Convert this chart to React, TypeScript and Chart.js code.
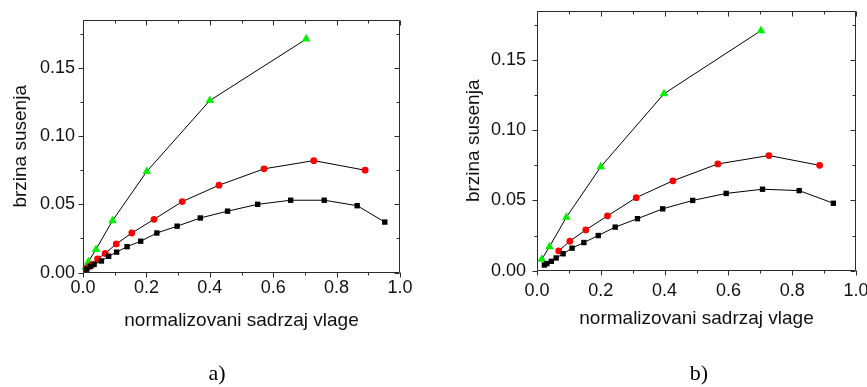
import React, { useEffect, useRef } from 'react';
import { Chart, registerables } from 'chart.js';

Chart.register(...registerables);

// ---- shared axes ----
const xTickValues = [0, 0.2, 0.4, 0.6, 0.8, 1.0];
const xTickLabels = ['0.0', '0.2', '0.4', '0.6', '0.8', '1.0'];
const xMinorTicks = [0.1, 0.3, 0.5, 0.7, 0.9];
const yTickValues = [0, 0.05, 0.1, 0.15];
const yTickLabels = ['0.00', '0.05', '0.10', '0.15'];
const yMinorTicks = [0.025, 0.075, 0.125, 0.175];
const xAxisTitle = 'normalizovani sadrzaj vlage';
const yAxisTitle = 'brzina susenja';

// ---- panel a ----
const aGreenX = [0.009, 0.017, 0.041, 0.093, 0.201, 0.4, 0.704];
const aGreenY = [0.004, 0.008, 0.017, 0.038, 0.074, 0.126, 0.171];
const aRedX = [0.01, 0.02, 0.03, 0.046, 0.07, 0.105, 0.154, 0.224, 0.313, 0.429, 0.571, 0.728, 0.89];
const aRedY = [0.003, 0.0045, 0.006, 0.01, 0.014, 0.021, 0.029, 0.039, 0.052, 0.064, 0.076, 0.082, 0.075];
const aBlackX = [0.012, 0.024, 0.035, 0.058, 0.081, 0.106, 0.139, 0.182, 0.233, 0.297, 0.37, 0.456, 0.551, 0.655, 0.761, 0.865, 0.952];
const aBlackY = [0.0025, 0.0045, 0.006, 0.0085, 0.012, 0.015, 0.019, 0.023, 0.029, 0.034, 0.04, 0.045, 0.05, 0.053, 0.053, 0.049, 0.037];

// ---- panel b ----
const bGreenX = [0.015, 0.039, 0.092, 0.2, 0.398, 0.702];
const bGreenY = [0.008, 0.017, 0.038, 0.074, 0.126, 0.171];
const bRedX = [0.068, 0.103, 0.153, 0.221, 0.311, 0.426, 0.567, 0.727, 0.886];
const bRedY = [0.014, 0.021, 0.029, 0.039, 0.052, 0.064, 0.076, 0.082, 0.075];
const bBlackX = [0.023, 0.031, 0.045, 0.06, 0.082, 0.11, 0.147, 0.192, 0.245, 0.315, 0.394, 0.488, 0.593, 0.707, 0.822, 0.929];
const bBlackY = [0.004, 0.005, 0.0066, 0.009, 0.012, 0.016, 0.02, 0.025, 0.031, 0.037, 0.044, 0.05, 0.055, 0.058, 0.057, 0.048];

const SANS = "'Liberation Sans', Arial, sans-serif";
const SERIF = "'Liberation Serif', 'Times New Roman', serif";

const pts = (xs: number[], ys: number[]) => xs.map((x, i) => ({ x, y: ys[i] }));

const frameTicksPlugin = {
  id: 'frameTicks',
  beforeDatasetsDraw(chart: any) {
    const { ctx, chartArea } = chart;
    const { left, right, top, bottom } = chartArea;
    const xs = chart.scales.x;
    const ys = chart.scales.y;
    const L = Math.round(left) + 0.5;
    const R = Math.round(right) - 0.5;
    const T = Math.round(top) + 0.5;
    const B = Math.round(bottom) - 0.5;
    ctx.save();
    ctx.strokeStyle = '#2a2a2a';
    ctx.lineWidth = 1;
    ctx.beginPath();
    ctx.rect(L, T, R - L, B - T);
    ctx.stroke();
    ctx.beginPath();
    const xTick = (v: number, len: number) => {
      const p = Math.round(xs.getPixelForValue(v)) + 0.5;
      ctx.moveTo(p, B);
      ctx.lineTo(p, B + len);
      ctx.moveTo(p, T);
      ctx.lineTo(p, T + len);
    };
    const yTick = (v: number, len: number) => {
      const p = Math.round(ys.getPixelForValue(v)) + 0.5;
      ctx.moveTo(L, p);
      ctx.lineTo(L - len, p);
      ctx.moveTo(R, p);
      ctx.lineTo(R - len, p);
    };
    xTickValues.forEach((v) => xTick(v, 5));
    xMinorTicks.forEach((v) => xTick(v, 3));
    yTickValues.forEach((v) => yTick(v, 5));
    yMinorTicks.forEach((v) => yTick(v, 3));
    ctx.stroke();
    ctx.restore();
  },
};

type PanelProps = {
  caption: string;
  green: { x: number; y: number }[];
  red: { x: number; y: number }[];
  black: { x: number; y: number }[];
  left: number;
  width: number;
  padTop: number;
  rightSpace: number;
  yAxisWidth: number;
  xAxisHeight: number;
  xTickPad: number;
  yTickPad: number;
  xTitlePad: number;
  yTitlePad: number;
  captionPadBottom: number;
};

function Panel(p: PanelProps) {
  const ref = useRef<HTMLCanvasElement | null>(null);
  useEffect(() => {
    if (!ref.current) return;
    const common = {
      showLine: true,
      borderColor: '#000',
      borderWidth: 1,
      clip: false,
      tension: 0,
    };
    const chart = new Chart(ref.current, {
      type: 'scatter',
      data: {
        datasets: [
          {
            ...common,
            label: 'black',
            data: p.black,
            pointStyle: 'rect',
            pointRadius: 3.8,
            pointBackgroundColor: '#000',
            pointBorderColor: '#000',
            pointBorderWidth: 0,
          },
          {
            ...common,
            label: 'red',
            data: p.red,
            pointStyle: 'circle',
            pointRadius: 3.4,
            pointBackgroundColor: '#ff0000',
            pointBorderColor: '#ff0000',
            pointBorderWidth: 0,
          },
          {
            ...common,
            label: 'green',
            data: p.green,
            pointStyle: 'triangle',
            pointRadius: 5,
            pointBackgroundColor: '#00f000',
            pointBorderColor: '#00f000',
            pointBorderWidth: 0,
          },
        ],
      } as any,
      options: {
        animation: false,
        responsive: true,
        maintainAspectRatio: false,
        layout: { padding: { left: 0, top: p.padTop, right: 0, bottom: 0 } },
        plugins: {
          legend: { display: false },
          tooltip: { enabled: false },
          title: {
            display: true,
            position: 'bottom',
            text: p.caption,
            color: '#000',
            font: { family: SERIF, size: 22, weight: 'normal' },
            padding: { top: 0, bottom: p.captionPadBottom },
          },
        },
        scales: {
          x: {
            type: 'linear',
            min: 0,
            max: 1,
            border: { display: false },
            grid: { display: false, drawTicks: false },
            afterBuildTicks: (s: any) => {
              s.ticks = xTickValues.map((v) => ({ value: v }));
            },
            afterFit: (s: any) => {
              s.height = p.xAxisHeight;
              s.paddingLeft = 0;
              s.paddingRight = 0;
            },
            ticks: {
              color: '#111',
              padding: p.xTickPad,
              maxRotation: 0,
              autoSkip: false,
              font: { family: SANS, size: 18 },
              callback: (_v: any, i: number) => xTickLabels[i],
            },
            title: {
              display: true,
              text: xAxisTitle,
              color: '#111',
              font: { family: SANS, size: 19 },
              padding: { top: 0, bottom: p.xTitlePad },
            },
          },
          y: {
            type: 'linear',
            min: 0,
            max: 0.185,
            border: { display: false },
            grid: { display: false, drawTicks: false },
            afterBuildTicks: (s: any) => {
              s.ticks = yTickValues.map((v) => ({ value: v }));
            },
            afterFit: (s: any) => {
              s.width = p.yAxisWidth;
              s.paddingTop = 0;
              s.paddingBottom = 0;
            },
            ticks: {
              color: '#111',
              padding: p.yTickPad,
              autoSkip: false,
              font: { family: SANS, size: 18 },
              callback: (_v: any, i: number) => yTickLabels[i],
            },
            title: {
              display: true,
              text: yAxisTitle,
              color: '#111',
              font: { family: SANS, size: 19 },
              padding: { top: p.yTitlePad, bottom: 0 },
            },
          },
          yRightSpace: {
            type: 'linear',
            position: 'right',
            display: true,
            border: { display: false },
            grid: { display: false, drawTicks: false },
            ticks: { display: false },
            afterFit: (s: any) => {
              s.width = p.rightSpace;
              s.paddingTop = 0;
              s.paddingBottom = 0;
            },
          },
        },
      } as any,
      plugins: [frameTicksPlugin],
    });
    return () => chart.destroy();
  }, []);
  return (
    <div style={{ position: 'absolute', left: p.left, top: 0, width: p.width, height: 387 }}>
      <canvas ref={ref} />
    </div>
  );
}

export default function App() {
  return (
    <div style={{ position: 'absolute', left: 0, top: 0, width: 867, height: 387, background: '#fff', overflow: 'hidden' }}>
      <Panel
        caption="a)"
        green={pts(aGreenX, aGreenY)}
        red={pts(aRedX, aRedY)}
        black={pts(aBlackX, aBlackY)}
        left={0}
        width={434}
        padTop={20}
        rightSpace={34}
        yAxisWidth={83}
        xAxisHeight={88}
        xTickPad={5}
        yTickPad={8}
        xTitlePad={28}
        yTitlePad={9}
        captionPadBottom={0}
      />
      <Panel
        caption="b)"
        green={pts(bGreenX, bGreenY)}
        red={pts(bRedX, bRedY)}
        black={pts(bBlackX, bBlackY)}
        left={433}
        width={532}
        padTop={11}
        rightSpace={109}
        yAxisWidth={104}
        xAxisHeight={90}
        xTickPad={10}
        yTickPad={11}
        xTitlePad={30}
        yTitlePad={29}
        captionPadBottom={0}
      />
    </div>
  );
}
